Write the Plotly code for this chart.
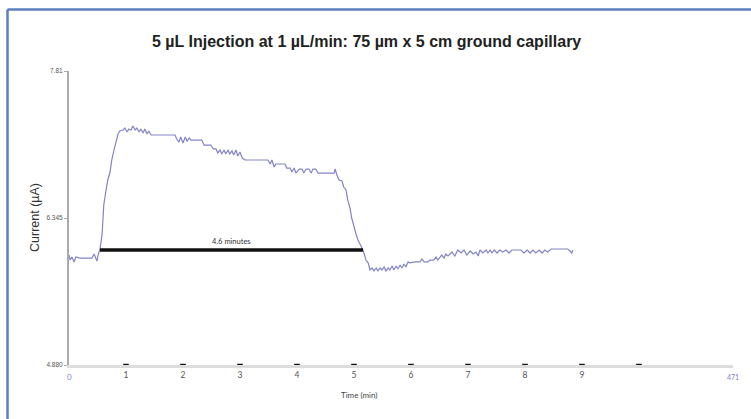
import plotly.graph_objects as go

# Time (min) and current (µA)
time_min = [0.00, 0.02, 0.05, 0.09, 0.12, 0.19, 0.30, 0.40, 0.44, 0.47, 0.49, 0.51, 0.54,
            0.58, 0.61, 0.65, 0.68, 0.72, 0.75, 0.79, 0.82, 0.86, 0.89, 0.95,
            0.98, 1.02, 1.05, 1.09, 1.12, 1.16, 1.19, 1.23, 1.26, 1.30, 1.33, 1.37, 1.40, 1.44, 1.47,
            1.86, 1.89, 1.93, 1.96, 2.00, 2.04, 2.07, 2.11, 2.14, 2.33, 2.37, 2.49, 2.53, 2.58,
            2.61, 2.65, 2.68, 2.72, 2.75, 2.79, 2.82, 2.86, 2.89, 2.93, 2.96, 3.00, 3.04, 3.09,
            3.49, 3.53, 3.56, 3.60, 3.63, 3.79, 3.82, 3.88, 3.91, 3.95, 3.98, 4.04, 4.09, 4.12,
            4.16, 4.21, 4.25, 4.28, 4.33, 4.37, 4.40, 4.65, 4.67, 4.70, 4.74, 4.79, 4.82, 4.86,
            4.89, 4.93, 4.96, 5.00, 5.04, 5.07, 5.11, 5.14, 5.18, 5.21, 5.25, 5.28, 5.32, 5.35,
            5.39, 5.42, 5.46, 5.49, 5.53, 5.56, 5.60, 5.63, 5.67, 5.70, 5.74, 5.77, 5.81, 5.84,
            5.88, 5.91, 5.95, 5.98, 6.07, 6.16, 6.19, 6.23, 6.30, 6.33, 6.40, 6.44, 6.47, 6.51,
            6.54, 6.58, 6.61, 6.65, 6.72, 6.77, 6.82, 6.88, 6.93, 6.98, 7.04, 7.09, 7.14, 7.18,
            7.21, 7.26, 7.32, 7.35, 7.39, 7.42, 7.46, 7.51, 7.56, 7.61, 7.67, 7.72, 7.77, 7.93,
            7.98, 8.04, 8.09, 8.14, 8.19, 8.25, 8.30, 8.35, 8.40, 8.46, 8.75, 8.79, 8.82, 8.84]
current_uA = [5.976, 5.926, 5.956, 5.906, 5.956, 5.946, 5.946, 5.946, 5.986, 5.946, 5.916, 5.976, 6.026,
              6.176, 6.475, 6.624, 6.724, 6.803, 6.923, 7.023, 7.092, 7.182, 7.212, 7.222,
              7.242, 7.202, 7.232, 7.222, 7.262, 7.222, 7.242, 7.202, 7.232, 7.192, 7.232, 7.182, 7.212, 7.172, 7.172,
              7.172, 7.132, 7.102, 7.152, 7.092, 7.152, 7.112, 7.142, 7.122, 7.122, 7.072, 7.072, 7.033, 7.033,
              6.993, 7.023, 6.983, 7.023, 6.983, 7.023, 6.983, 7.013, 6.973, 7.023, 6.963, 7.003, 6.943, 6.923,
              6.923, 6.883, 6.923, 6.853, 6.883, 6.883, 6.843, 6.843, 6.803, 6.843, 6.793, 6.833, 6.833, 6.793,
              6.833, 6.833, 6.793, 6.833, 6.833, 6.793, 6.793, 6.793, 6.833, 6.773, 6.724, 6.714, 6.654, 6.624,
              6.525, 6.445, 6.345, 6.245, 6.176, 6.126, 6.086, 6.046, 5.986, 5.926, 5.896, 5.827, 5.847, 5.817,
              5.847, 5.817, 5.847, 5.827, 5.857, 5.817, 5.847, 5.827, 5.867, 5.827, 5.867, 5.837, 5.877, 5.847,
              5.887, 5.857, 5.907, 5.897, 5.907, 5.907, 5.936, 5.907, 5.907, 5.926, 5.926, 5.956, 5.926, 5.956,
              5.976, 5.946, 5.986, 5.966, 6.006, 5.966, 6.026, 5.996, 6.026, 5.976, 6.016, 5.986, 6.006, 5.966,
              6.026, 5.996, 6.026, 5.996, 6.026, 5.996, 6.026, 5.996, 6.026, 6.006, 6.026, 5.996, 6.026, 6.026,
              5.996, 6.026, 5.996, 6.026, 5.996, 6.026, 5.996, 6.026, 6.006, 6.036, 6.036, 6.016, 5.996, 6.026]

# Injection-duration bar
bar_time = [0.544, 5.16]
bar_current = [6.026, 6.026]
bar_label = "4.6 minutes"

# Axes
x_tick_vals = [1, 2, 3, 4, 5, 6, 7, 8, 9, 10]
x_tick_text = ["1", "2", "3", "4", "5", "6", "7", "8", "9", ""]
x_max = 11.65
x_end_label = "471"
y_tick_vals = [4.88, 6.345, 7.81]
y_tick_text = ["4.880", "6.345", "7.81"]

title = "5 µL Injection at 1 µL/min: 75 µm x 5 cm ground capillary"

W, H = 751, 419
ML, MR, MT, MB = 69, 18, 71, 54
PW, PH = W - ML - MR, H - MT - MB


def px_x(px):
    return (px - ML) / PW


def px_y(py):
    return (H - MB - py) / PH


fig = go.Figure()

fig.add_trace(go.Scatter(
    x=time_min, y=current_uA, mode="lines",
    line=dict(color="#8384c6", width=1.2), showlegend=False, hoverinfo="skip"))

fig.add_trace(go.Scatter(
    x=bar_time, y=bar_current, mode="lines",
    line=dict(color="#111111", width=3.5), showlegend=False, hoverinfo="skip"))

# black dash tick marks on the x axis
fig.add_trace(go.Scatter(
    x=x_tick_vals, y=[y_tick_vals[0]] * len(x_tick_vals), mode="markers",
    marker=dict(symbol="line-ew", size=4, line=dict(color="#111111", width=2.5)),
    cliponaxis=False, showlegend=False, hoverinfo="skip"))

fig.update_layout(
    width=W, height=H,
    margin=dict(l=ML, r=MR, t=MT, b=MB),
    paper_bgcolor="white", plot_bgcolor="white",
    hovermode=False,
    font=dict(family="Liberation Sans, Arial, sans-serif", color="#555555"),
    xaxis=dict(range=[0, x_max], tickvals=x_tick_vals, ticktext=x_tick_text,
               showgrid=False, zeroline=False, showline=True,
               linecolor="#dddddd", linewidth=3, ticks="",
               tickfont=dict(size=8.5, color="#555555", family="Lato, sans-serif")),
    yaxis=dict(range=[y_tick_vals[0], y_tick_vals[-1]], tickvals=y_tick_vals, ticktext=y_tick_text,
               showgrid=False, zeroline=False, showline=True,
               linecolor="#aaaaaa", linewidth=2, ticks="outside", ticklen=3,
               tickcolor="#aaaaaa", tickwidth=1,
               tickfont=dict(size=6.5, color="#555555")),
)

ann = [
    dict(text=f"<b>{title}</b>", xref="paper", yref="paper", x=px_x(366), y=px_y(41),
         xanchor="center", yanchor="middle", showarrow=False,
         font=dict(size=16, color="#222222", family="Liberation Sans, Arial, sans-serif")),
    dict(text="Current (µA)", xref="paper", yref="paper", x=px_x(35), y=px_y(218),
         xanchor="center", yanchor="middle", showarrow=False, textangle=-90,
         font=dict(size=12.5, color="#333333")),
    dict(text="Time (min)", xref="paper", yref="paper", x=px_x(359), y=px_y(395),
         xanchor="center", yanchor="middle", showarrow=False,
         font=dict(size=8, color="#444444", family="Lato, sans-serif")),
    dict(text=bar_label, x=sum(bar_time) / 2, y=bar_current[0], yshift=9,
         xanchor="center", yanchor="middle", showarrow=False,
         font=dict(size=7.5, color="#333333", family="Lato, sans-serif")),
    dict(text="0", x=0, xref="x", yref="paper", y=px_y(377),
         xanchor="center", yanchor="middle", showarrow=False,
         font=dict(size=8, color="#8080c8", family="Lato, sans-serif")),
    dict(text=x_end_label, x=x_max, xref="x", yref="paper", y=px_y(377),
         xanchor="center", yanchor="middle", showarrow=False,
         font=dict(size=7, color="#8080c8", family="Lato, sans-serif")),
]
fig.update_layout(annotations=ann)

# frame lines (top and left)
fig.update_layout(shapes=[
    dict(type="line", xref="paper", yref="paper", x0=px_x(7.5), x1=px_x(W + 2),
         y0=px_y(9.5), y1=px_y(9.5), line=dict(color="#5a7fc2", width=2.5)),
    dict(type="line", xref="paper", yref="paper", x0=px_x(7.5), x1=px_x(7.5),
         y0=px_y(9.5), y1=px_y(H + 2), line=dict(color="#5a7fc2", width=2.5)),
])

fig.write_html("out.html", config={"displayModeBar": False},
               post_script="document.body.style.margin='0';document.body.style.overflow='hidden';")
